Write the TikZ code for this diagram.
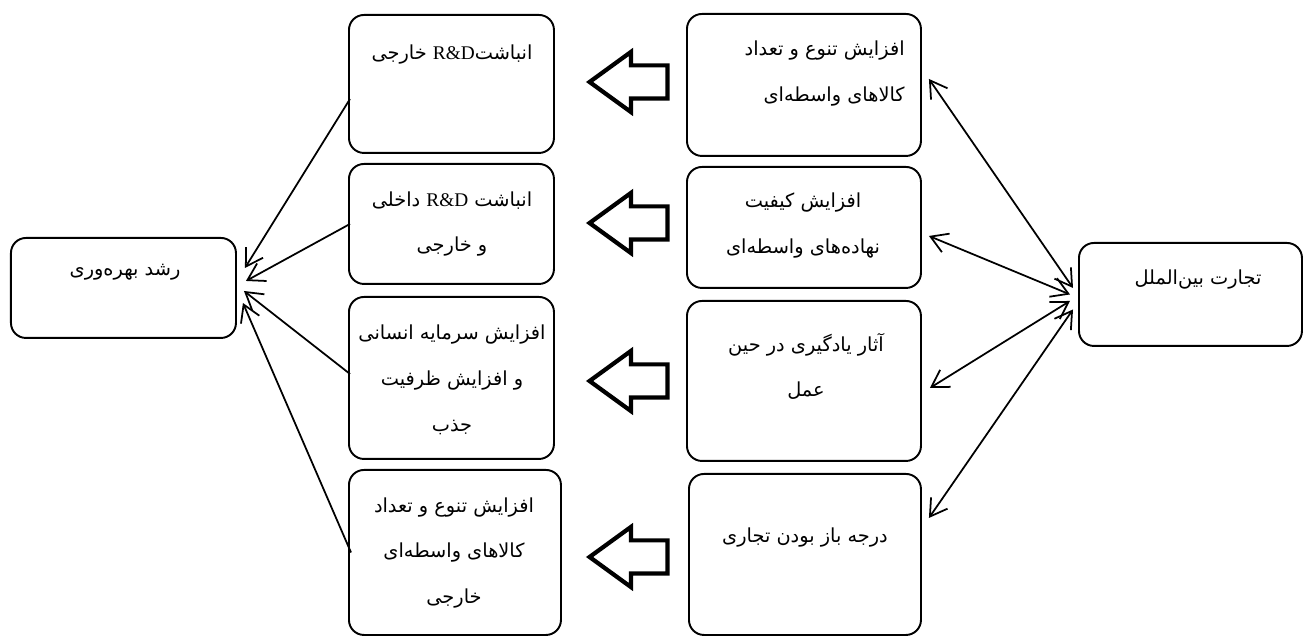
\documentclass[tikz,border=0pt]{standalone}
\usepackage{fontspec}
\usetikzlibrary{arrows.meta,shapes.arrows}
\TeXXeTstate=1
\newfontfamily\arabicfont[Script=Arabic]{DejaVu Sans}
\newfontfamily\latinfont{Liberation Serif}
\newcommand{\fa}[1]{\beginR#1\endR}
\newcommand{\RD}{\beginL{\latinfont R\&D}\endL}

\begin{document}
\begin{tikzpicture}[
  box/.style={draw, rounded corners=0.3cm, line width=1.1pt, anchor=north west, inner sep=0pt},
  txt/.style={font=\arabicfont\fontsize{11}{26}\selectfont, align=center, inner sep=0pt},
  hollow/.style={single arrow, draw, line width=2.4pt, shape border rotate=180, minimum height=1.56cm, inner xsep=0pt, inner ysep=0.29cm, single arrow head extend=0.27cm, single arrow tip angle=72},
  arr/.style={-{Straight Barb[length=3.3mm,width=4mm]}, line width=1pt},
  dbl/.style={{Straight Barb[length=3.3mm,width=4mm]}-{Straight Barb[length=3.3mm,width=4mm]}, line width=1pt}
]
  \useasboundingbox (0,0) rectangle (26.06,-12.74);

  \node[box, minimum width=4.5cm, minimum height=2cm] (gr) at (0.2,-4.74) {};
  \node[box, minimum width=4.1cm, minimum height=2.76cm] (a1) at (6.96,-0.28) {};
  \node[box, minimum width=4.1cm, minimum height=2.4cm] (a2) at (6.96,-3.26) {};
  \node[box, minimum width=4.1cm, minimum height=3.24cm] (a3) at (6.96,-5.92) {};
  \node[box, minimum width=4.24cm, minimum height=3.3cm] (a4) at (6.96,-9.38) {};
  \node[box, minimum width=4.68cm, minimum height=2.84cm] (b1) at (13.72,-0.26) {};
  \node[box, minimum width=4.68cm, minimum height=2.42cm] (b2) at (13.72,-3.32) {};
  \node[box, minimum width=4.68cm, minimum height=3.2cm] (b3) at (13.72,-6.0) {};
  \node[box, minimum width=4.64cm, minimum height=3.22cm] (b4) at (13.76,-9.46) {};
  \node[box, minimum width=4.46cm, minimum height=2.06cm] (tb) at (21.56,-4.84) {};

  \node[txt] (grt) at (2.5,-5.44) {\fa{رشد بهره‌وری}};
  \node[txt] (a1t) at (9.04,-1.1) {\fa{انباشت\RD{} خارجی}};
  \node[txt] (a2t) at (9.04,-4.48) {\fa{انباشت \RD{} داخلی}\\\fa{و خارجی}};
  \node[txt] (a3t) at (9.04,-7.6) {\fa{افزایش سرمایه انسانی}\\\fa{و افزایش ظرفیت}\\\fa{جذب}};
  \node[txt] (a4t) at (9.08,-11.06) {\fa{افزایش تنوع و تعداد}\\\fa{کالاهای واسطه‌ای}\\\fa{خارجی}};
  \node[txt, align=right, anchor=east] (b1t) at (18.1,-1.47) {\fa{افزایش تنوع و تعداد}\\\fa{کالاهای واسطه‌ای}};
  \node[txt] (b2t) at (16.06,-4.51) {\fa{افزایش کیفیت}\\\fa{نهاده‌های واسطه‌ای}};
  \node[txt] (b3t) at (16.12,-7.33) {\fa{آثار یادگیری در حین}\\\fa{عمل}};
  \node[txt] (b4t) at (16.1,-10.76) {\fa{درجه باز بودن تجاری}};
  \node[txt] (tbt) at (23.96,-5.6) {\fa{تجارت بین‌الملل}};

  \node[hollow] (h1) at (12.8,-1.64) {};
  \node[hollow] (h2) at (12.8,-4.46) {};
  \node[hollow] (h3) at (12.8,-7.62) {};
  \node[hollow] (h4) at (12.8,-11.14) {};

  \draw[arr] ([xshift=0.04cm,yshift=-0.3cm]a1.west) -- ([xshift=0.16cm,yshift=0.4cm]gr.east);
  \draw[arr] ([xshift=0.04cm]a2.west) -- ([xshift=0.18cm,yshift=0.14cm]gr.east);
  \draw[arr] ([xshift=0.04cm,yshift=0.08cm]a3.west) -- ([xshift=0.14cm,yshift=-0.06cm]gr.east);
  \draw[arr] ([xshift=0.06cm]a4.west) -- ([xshift=0.12cm,yshift=-0.3cm]gr.east);

  \draw[dbl] ([xshift=0.14cm,yshift=0.12cm]b1.east) -- ([xshift=-0.1cm,yshift=0.13cm]tb.west);
  \draw[dbl] ([xshift=0.14cm,yshift=-0.17cm]b2.east) -- ([xshift=-0.16cm]tb.west);
  \draw[dbl] ([xshift=0.16cm,yshift=-0.14cm]b3.east) -- ([xshift=-0.16cm,yshift=-0.13cm]tb.west);
  \draw[dbl] ([xshift=0.14cm,yshift=0.73cm]b4.east) -- ([xshift=-0.1cm,yshift=-0.3cm]tb.west);
\end{tikzpicture}
\end{document}
